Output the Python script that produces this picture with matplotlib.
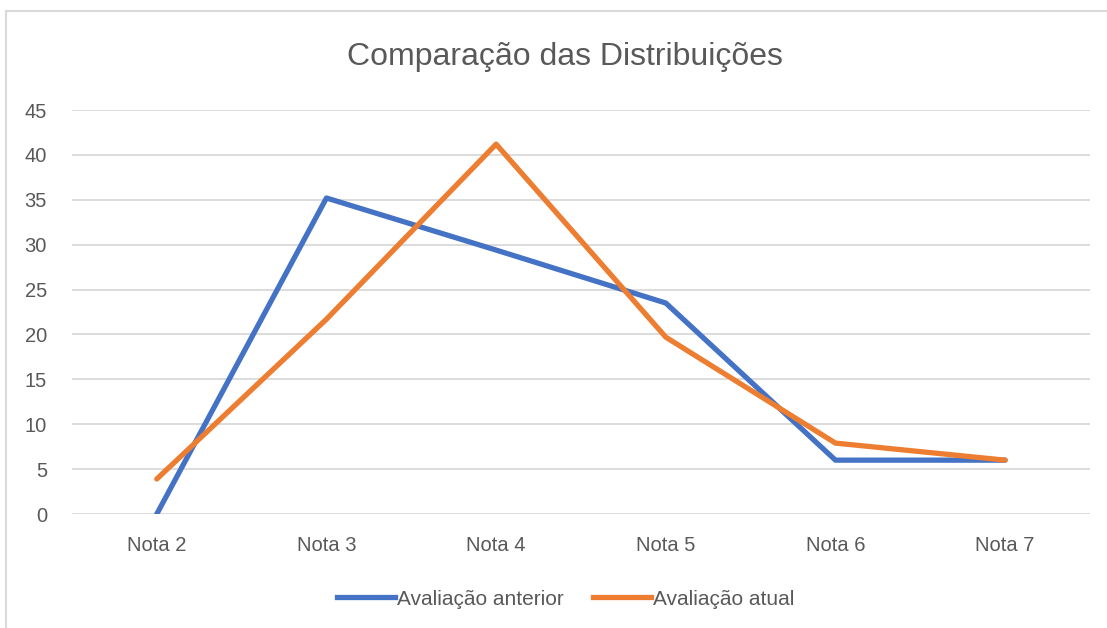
import matplotlib.pyplot as plt
from matplotlib.lines import Line2D

plt.rcParams['font.family'] = ['Liberation Sans', 'DejaVu Sans']

# dados
categorias = ['Nota 2', 'Nota 3', 'Nota 4', 'Nota 5', 'Nota 6', 'Nota 7']
avaliacao_anterior = [0, 35.2, 29.4, 23.5, 6, 6]
avaliacao_atual = [3.9, 21.7, 41.2, 19.7, 7.9, 6]
yticks = [0, 5, 10, 15, 20, 25, 30, 35, 40, 45]

fig = plt.figure(figsize=(11.07, 6.28), dpi=100)
ax = fig.add_axes([0.065, 0.1815, 0.9196, 0.6433])

x = range(len(categorias))
ax.plot(x, avaliacao_anterior, color='#4472C4', lw=3.8, solid_joinstyle='round',
        solid_capstyle='round', label='Avaliação anterior', zorder=3)
ax.plot(x, avaliacao_atual, color='#ED7D31', lw=3.8, solid_joinstyle='round',
        solid_capstyle='round', label='Avaliação atual', zorder=3)

ax.set_xlim(-0.5, len(categorias) - 0.5)
ax.set_ylim(0, 45)
ax.set_yticks(yticks)
ax.set_xticks(list(x))
ax.set_xticklabels(categorias)
ax.yaxis.grid(True, color='#D9D9D9', lw=1.3)
ax.set_axisbelow(True)
for s in ax.spines.values():
    s.set_visible(False)
ax.tick_params(length=0, colors='#595959', labelsize=14.5)
ax.tick_params(axis='x', pad=16)
ax.tick_params(axis='y', pad=18)
for lab in ax.get_yticklabels():
    lab.set_horizontalalignment('right')

# título centrado na área do gráfico (não no eixo)
fig.text(0.51, 1 - 57 / 628, 'Comparação das Distribuições', fontsize=23,
         color='#595959', ha='center', va='center')

handles = [Line2D([], [], color='#4472C4', lw=3.8),
           Line2D([], [], color='#ED7D31', lw=3.8)]
fig.legend(handles, ['Avaliação anterior', 'Avaliação atual'], loc='center',
           bbox_to_anchor=(0.511, 0.046), ncol=2, frameon=False, fontsize=15,
           handlelength=2.8, handletextpad=0.1, columnspacing=1.4,
           labelcolor='#595959')

# moldura do gráfico (cantos superior e esquerdo visíveis no recorte)
fig.add_artist(Line2D([6 / 1107, 6 / 1107], [0, 1 - 11 / 628], color='#D9D9D9', lw=1.5))
fig.add_artist(Line2D([6 / 1107, 1], [1 - 11 / 628, 1 - 11 / 628], color='#D9D9D9', lw=1.5))

fig.savefig('out.png', dpi=100)
